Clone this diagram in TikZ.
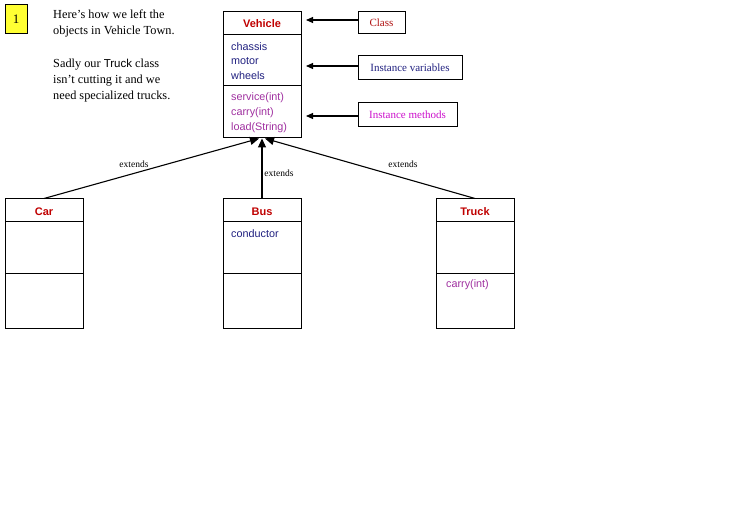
\documentclass[tikz,border=0pt]{standalone}
\usepackage{fontspec}
\setmainfont{Liberation Serif}
\setsansfont{Liberation Sans}
\usetikzlibrary{arrows.meta}
\definecolor{titred}{HTML}{C00000}
\definecolor{varblue}{HTML}{202080}
\definecolor{methpur}{HTML}{A030A0}
\definecolor{labred}{HTML}{B01010}
\definecolor{labmag}{HTML}{CC10CC}
\definecolor{numyel}{HTML}{FFFF33}
\begin{document}
\begin{tikzpicture}[x=1pt,y=-1pt,
  classbox/.style={draw=black,line width=1pt,minimum width=78pt,inner sep=0pt},
  tagbox/.style={draw=black,line width=1pt,inner sep=0pt,font=\fontsize{11}{13}\selectfont},
  ttl/.style={font=\sffamily\fontsize{11}{13}\selectfont\bfseries,text=titred,inner sep=0pt},
  mem/.style={font=\sffamily\fontsize{10.8}{13}\selectfont,inner sep=0pt,anchor=west},
  para/.style={font=\fontsize{12.3}{16}\selectfont,align=left,anchor=north west,inner sep=0pt},
  ext/.style={font=\fontsize{9.5}{11}\selectfont,inner sep=0pt},
  inh/.style={line width=1.1pt,-{Triangle[length=9pt,width=8pt]}},
  ptr/.style={line width=1.1pt,-{Triangle[length=7pt,width=6pt]}}]
\useasboundingbox (0,0) rectangle (730,518);
\fill[white] (0,0) rectangle (730,518);
% number box
\node[draw=black,fill=numyel,line width=0.8pt,minimum width=22pt,minimum height=29pt,inner sep=0pt,font=\fontsize{13}{15}\selectfont] (num) at (16,19) {1};
% paragraph
\node[para] (p1) at (53,10) {Here's how we left the\\objects in Vehicle Town.};
\node[para] (p2) at (53,59) {Sadly our {\sffamily\fontsize{11.5}{16}\selectfont Truck} class\\isn't cutting it and we\\need specialized trucks.};
% Vehicle class
\node[classbox,minimum height=126pt] (veh) at (262,75) {};
\draw[line width=1pt] (223,35) -- (301,35);
\draw[line width=1pt] (223,86) -- (301,86);
\node[ttl] (vehT) at (262,24) {Vehicle};
\node[mem,text=varblue] (v1) at (231,46.5) {chassis};
\node[mem,text=varblue] (v2) at (231,61.5) {motor};
\node[mem,text=varblue] (v3) at (231,75.5) {wheels};
\node[mem,text=methpur] (m1) at (231,97.5) {service(int)};
\node[mem,text=methpur] (m2) at (231,112.5) {carry(int)};
\node[mem,text=methpur] (m3) at (231,127.5) {load(String)};
% tag boxes
\node[tagbox,minimum width=47pt,minimum height=22pt,text=labred] (cls) at (381.5,23) {Class};
\node[tagbox,minimum width=104pt,minimum height=24pt,text=varblue] (ivar) at (410,68) {Instance variables};
\node[tagbox,minimum width=99pt,minimum height=24pt,text=labmag] (imeth) at (407.5,115) {Instance methods};
\coordinate (t1) at (306,20);
\coordinate (t2) at (306,66);
\coordinate (t3) at (306,116);
\draw[ptr] (cls.west |- t1) -- (t1);
\draw[ptr] (ivar.west |- t2) -- (t2);
\draw[ptr] (imeth.west |- t3) -- (t3);
% subclasses
\node[classbox,minimum height=129pt] (car) at (44,263.5) {};
\node[classbox,minimum height=129pt] (bus) at (262,263.5) {};
\node[classbox,minimum height=129pt] (trk) at (475,263.5) {};
\foreach \xa in {5,223,436}{
  \draw[line width=1pt] (\xa,222) -- ++(78,0);
  \draw[line width=1pt] (\xa,274) -- ++(78,0);
}
\node[ttl] (carT) at (44,212) {Car};
\node[ttl] (busT) at (262,212) {Bus};
\node[ttl] (trkT) at (475,212) {Truck};
\node[mem,text=varblue] (b1) at (231,234) {conductor};
\node[mem,text=methpur] (tk1) at (446,285) {carry(int)};
% inheritance arrows
\draw[inh] (car.north) -- ([xshift=-3pt]veh.south);
\draw[inh] (bus.north) -- (veh.south);
\draw[inh] (trk.north) -- ([xshift=3pt]veh.south);
\node[ext] (e1) at (134,164) {extends};
\node[ext] (e2) at (279,173) {extends};
\node[ext] (e3) at (403,164) {extends};
\end{tikzpicture}
\end{document}
